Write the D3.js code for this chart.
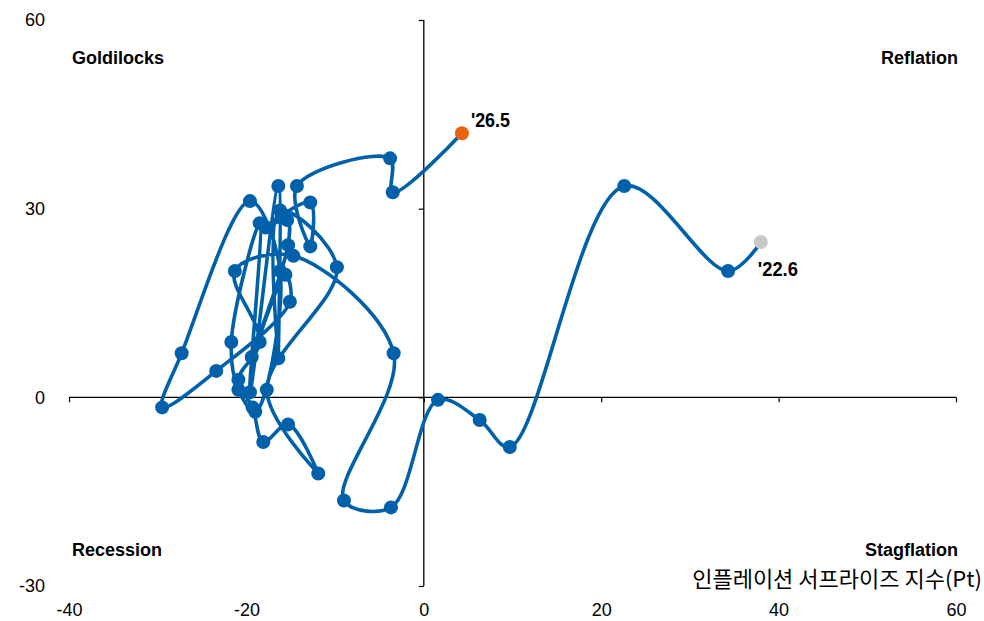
<!DOCTYPE html>
<html><head><meta charset="utf-8">
<script src="https://cdn.jsdelivr.net/npm/d3@7"></script>
<style>
html,body{margin:0;padding:0;background:#fff;}
svg{display:block;}
</style></head>
<body>
<svg id="chart" width="984" height="621"></svg>
<script>
// Economic surprise (y) vs inflation surprise (x), monthly path '22.6 -> '26.5
const inflationSurprise = [38.0,34.3,22.6,9.7,6.3,1.6,-3.7,-9.0,-3.4,-14.7,-21.3,-18.5,-20.9,-19.3,-18.1,-15.3,-11.9,-17.7,-9.8,-16.2,-16.4,-16.4,-19.6,-18.5,-21.7,-20.9,-19.0,-16.2,-19.6,-27.3,-29.5,-23.4,-15.1,-15.6,-19.4,-15.3,-15.4,-17.8,-12.8,-12.8,-14.3,-3.8,-3.5,4.3];
const economicSurprise  = [24.7,20.1,33.6,-7.9,-3.6,-0.4,-17.5,-16.4,7.0,22.5,20.1,8.8,2.8,-1.6,-7.1,-4.3,-12.1,1.2,20.7,29.7,6.2,33.6,0.8,27.7,8.8,1.2,-2.3,20.1,31.2,7.0,-1.6,4.2,15.2,19.5,6.4,24.2,28.2,27.0,31.0,24.0,33.6,38.0,32.6,42.0];
const xTicks = [-40,-20,0,20,40,60];
const yTicks = [-30,0,30,60];
const quadrantLabels = ["Goldilocks","Reflation","Recession","Stagflation"];
const startLabel = "'22.6";
const endLabel = "'26.5";
const xTitle = "인플레이션 서프라이즈 지수(Pt)";

const data = inflationSurprise.map((v,i)=>({x:v,y:economicSurprise[i]}));

const svg = d3.select("#chart");
const pLeft = 69, pRight = 956, pTop = 20, pBottom = 586;
const x = d3.scaleLinear().domain([-40,60]).range([pLeft,pRight]);
const y = d3.scaleLinear().domain([-30,60]).range([pBottom,pTop]);

const blue = "#0061AA", orange = "#E8620F", grey = "#C8C8C8";
const baseFont = "'Liberation Sans',Arial,sans-serif";
const fmt = d => (d < 0 ? "-" + Math.abs(d) : String(d));

// axis lines through origin
const gx = svg.append("g").attr("transform",`translate(0,${y(0)})`)
  .call(d3.axisBottom(x).tickValues(xTicks).tickSize(5).tickFormat(""));
gx.select(".domain").attr("stroke","#000").attr("stroke-width",1.3).attr("d",`M${pLeft},0H${pRight}`);
gx.selectAll(".tick line").attr("stroke","#000").attr("stroke-width",1.2);

const gy = svg.append("g").attr("transform",`translate(${x(0)},0)`)
  .call(d3.axisLeft(y).tickValues(yTicks).tickSize(5).tickFormat(""));
gy.select(".domain").attr("stroke","#000").attr("stroke-width",1.3).attr("d",`M0,${pTop}V${pBottom}`);
gy.selectAll(".tick line").attr("stroke","#000").attr("stroke-width",1.2);

// tick labels at the low side
const gxl = svg.append("g").attr("transform",`translate(0,${pBottom+14})`)
  .call(d3.axisBottom(x).tickValues(xTicks).tickSize(0).tickFormat(fmt));
gxl.select(".domain").remove();
gxl.attr("font-family",baseFont).attr("font-size",18);
gxl.selectAll("text").attr("fill","#000");

const gyl = svg.append("g").attr("transform",`translate(${pLeft-21},0)`)
  .call(d3.axisLeft(y).tickValues(yTicks).tickSize(0).tickFormat(fmt));
gyl.select(".domain").remove();
gyl.attr("font-family",baseFont).attr("font-size",18);
gyl.selectAll("text").attr("fill","#000");

// path
const line = d3.line().x(d=>x(d.x)).y(d=>y(d.y)).curve(d3.curveCatmullRom.alpha(0.5));
svg.append("path").datum(data).attr("d",line).attr("fill","none")
  .attr("stroke",blue).attr("stroke-width",3.6).attr("stroke-linejoin","round");

svg.append("g").selectAll("circle").data(data).join("circle")
  .attr("cx",d=>x(d.x)).attr("cy",d=>y(d.y)).attr("r",7)
  .attr("fill",(d,i)=> i===0?grey:(i===data.length-1?orange:blue));

// point labels
const first = data[0], last = data[data.length-1];
svg.append("text").attr("font-family",baseFont).attr("x",x(first.x)-3).attr("y",y(first.y)+34)
  .attr("font-size",20).attr("font-weight","bold").attr("textLength",40).attr("lengthAdjust","spacingAndGlyphs").text(startLabel);
svg.append("text").attr("font-family",baseFont).attr("x",x(last.x)+9).attr("y",y(last.y)-6)
  .attr("font-size",20).attr("font-weight","bold").attr("textLength",39).attr("lengthAdjust","spacingAndGlyphs").text(endLabel);

// quadrant labels
const quad = [
  {t:quadrantLabels[0], x:72,  y:64,  a:"start"},
  {t:quadrantLabels[1], x:958, y:64,  a:"end"},
  {t:quadrantLabels[2], x:72,  y:556, a:"start"},
  {t:quadrantLabels[3], x:958, y:556, a:"end"}
];
svg.append("g").selectAll("text").data(quad).join("text")
  .attr("x",d=>d.x).attr("y",d=>d.y).attr("text-anchor",d=>d.a)
  .attr("font-family",baseFont).attr("font-size",18).attr("font-weight","bold").text(d=>d.t);

// axis title
svg.append("text").attr("x",982).attr("y",587).attr("text-anchor","end")
  .attr("font-family","'Noto Sans CJK KR','Noto Sans',sans-serif").attr("font-size",22).text(xTitle);
</script>
</body></html>
